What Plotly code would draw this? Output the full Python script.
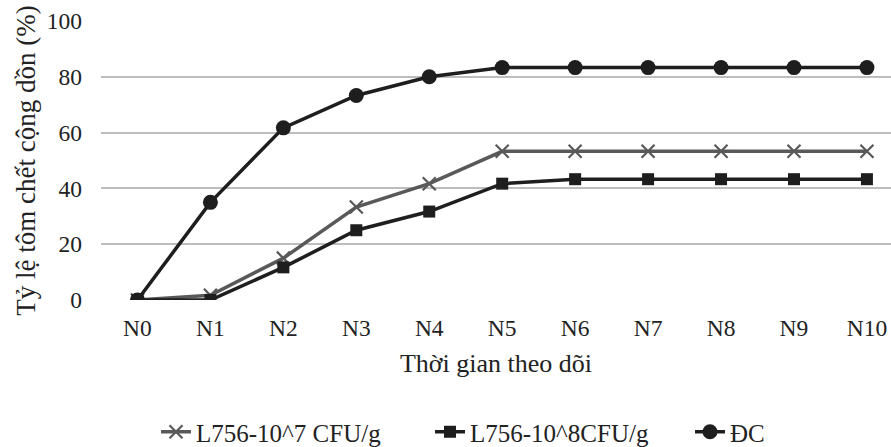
import plotly.graph_objects as go

categories = ["N0", "N1", "N2", "N3", "N4", "N5", "N6", "N7", "N8", "N9", "N10"]
s_1e7 = [0, 1.7, 15, 33.3, 41.7, 53.3, 53.3, 53.3, 53.3, 53.3, 53.3]
s_1e8 = [0, 0, 11.7, 25, 31.7, 41.7, 43.3, 43.3, 43.3, 43.3, 43.3]
s_dc = [0, 35, 61.7, 73.3, 80, 83.3, 83.3, 83.3, 83.3, 83.3, 83.3]
names = ["L756-10^7 CFU/g", "L756-10^8CFU/g", "ĐC"]
y_ticks = [0, 20, 40, 60, 80, 100]

FONT = "Liberation Serif"
TXT = "#222222"
W, H = 891, 447

fig = go.Figure()
fig.add_trace(go.Scatter(
    x=categories, y=s_1e7, name=names[0], mode="lines+markers", legend="legend",
    line=dict(color="#595959", width=3.5),
    marker=dict(symbol="x-thin", size=13, line=dict(color="#595959", width=2.2), color="#595959"),
))
fig.add_trace(go.Scatter(
    x=categories, y=s_1e8, name=names[1], mode="lines+markers", legend="legend2",
    line=dict(color="#1e1e1e", width=3.5),
    marker=dict(symbol="square", size=12, color="#1e1e1e"),
))
fig.add_trace(go.Scatter(
    x=categories, y=s_dc, name=names[2], mode="lines+markers", legend="legend3",
    line=dict(color="#1e1e1e", width=3.5),
    marker=dict(symbol="circle", size=15, color="#1e1e1e"),
))

def leg(text_x):
    return dict(orientation="h", xref="container", yref="container", x=(text_x - 42) / W,
                xanchor="left", y=15 / H, yanchor="middle",
                font=dict(family=FONT, size=25, color=TXT), itemwidth=30,
                bgcolor="rgba(0,0,0,0)")

fig.update_layout(
    width=W, height=H,
    margin=dict(l=101, r=0, t=21, b=147, autoexpand=False),
    paper_bgcolor="white", plot_bgcolor="white",
    font=dict(family=FONT, size=24, color=TXT),
    showlegend=True,
    legend=leg(198), legend2=leg(472), legend3=leg(732),
    xaxis=dict(
        type="category", range=[-0.5, 10.33], showgrid=False, showline=False, zeroline=False,
        ticks="", ticklabelstandoff=11, tickfont=dict(family=FONT, size=23.5, color=TXT),
        title=dict(text="Thời gian theo dõi", font=dict(family=FONT, size=26, color=TXT), standoff=14),
        automargin=False,
    ),
    yaxis=dict(
        range=[0, 100], tickvals=y_ticks, showgrid=True, gridcolor="#bdbdbd", gridwidth=1.5,
        zeroline=False, showline=False, ticks="", ticklabelstandoff=18,
        tickfont=dict(family=FONT, size=23.5, color=TXT),
        title=dict(text="Tỷ lệ tôm chết cộng dồn (%)", font=dict(family=FONT, size=27, color=TXT), standoff=3),
        automargin=False,
    ),
)

fig.write_html("out.html")
